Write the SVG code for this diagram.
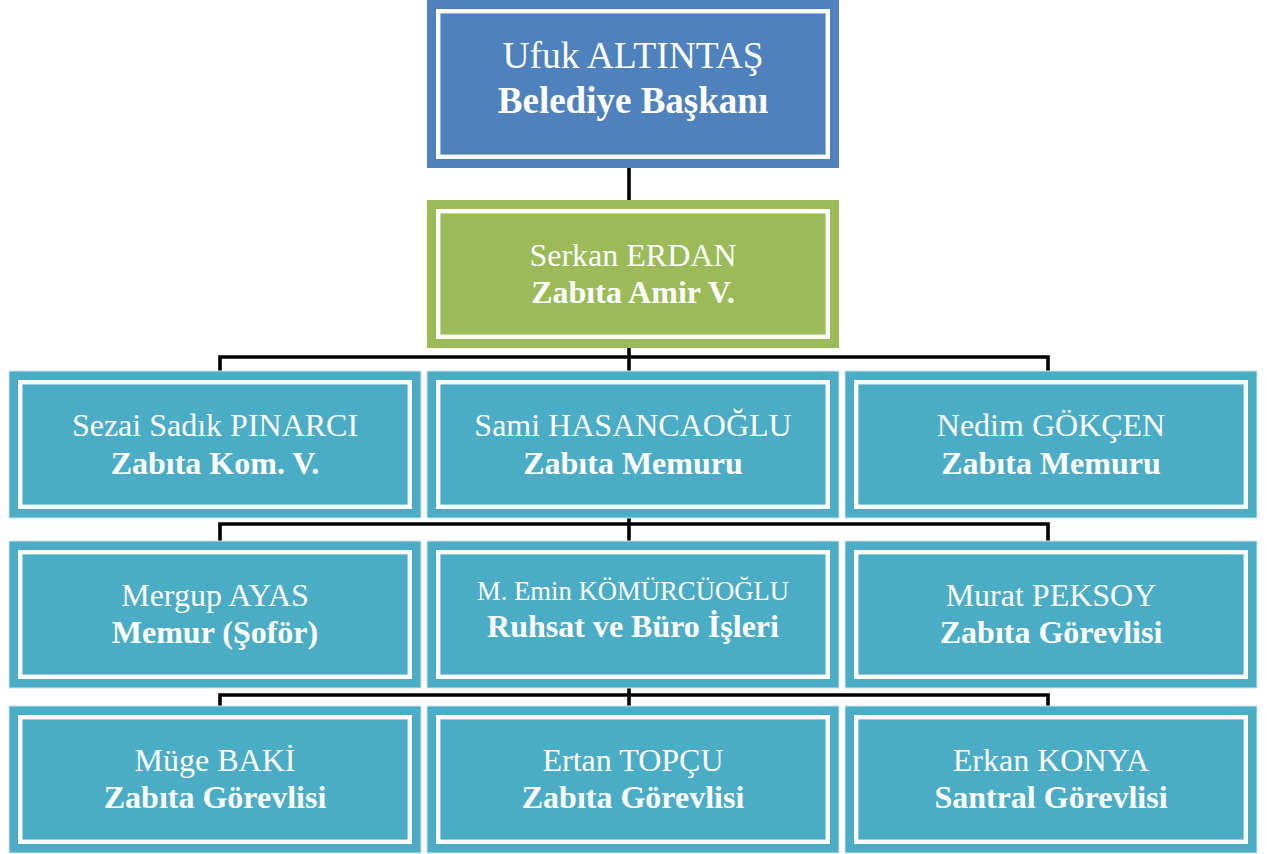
<svg xmlns="http://www.w3.org/2000/svg" width="1267" height="854" viewBox="0 0 1267 854">
  <style>
    .outer { stroke: #CFE6EE; stroke-width: 1; }
    .inner { fill: none; stroke: #FFFFFF; stroke-width: 4.4; }
    .blue { fill: #4F81BD; }
    .green { fill: #9BBB59; }
    .teal { fill: #4BACC6; }
    .t { font-family: "Liberation Serif", "Times New Roman", serif; fill: #FFFFFF; text-anchor: middle; }
    .n { font-size: 32px; }
    .b { font-size: 32px; font-weight: bold; }
    .nl { font-size: 37.5px; }
    .bl { font-size: 37px; font-weight: bold; }
    .ns { font-size: 26.7px; }
    .c { stroke: #000000; stroke-width: 3.6; fill: none; stroke-linecap: butt; }
  </style>
  <rect width="1267" height="854" fill="#FFFFFF"/>

  <g id="connectors">
    <line class="c" x1="629" y1="168" x2="629" y2="200"/>
    <line class="c" x1="629" y1="348" x2="629" y2="371"/>
    <polyline class="c" points="220,371 220,357 1048,357 1048,371"/>
    <line class="c" x1="629" y1="518" x2="629" y2="541"/>
    <polyline class="c" points="220,541 220,524 1048,524 1048,541"/>
    <line class="c" x1="629" y1="688" x2="629" y2="706"/>
    <polyline class="c" points="220,706 220,695 1048,695 1048,706"/>
  </g>

  <g id="node-baskan">
    <rect class="blue" x="427" y="0" width="412" height="168"/>
    <rect class="inner" x="438.2" y="11.2" width="389.6" height="145.6"/>
    <text class="t nl" x="633" y="68">Ufuk ALTINTAŞ</text>
    <text class="t bl" x="633" y="113">Belediye Başkanı</text>
  </g>

  <g id="node-amir">
    <rect class="green" x="427" y="200" width="412" height="148"/>
    <rect class="inner" x="438.2" y="211.2" width="389.6" height="125.6"/>
    <text class="t n" x="633" y="266">Serkan ERDAN</text>
    <text class="t b" x="633" y="303">Zabıta Amir V.</text>
  </g>

  <g id="node-pinarci">
    <rect class="teal outer" x="9" y="371" width="412" height="147"/>
    <rect class="inner" x="20.2" y="382.2" width="389.6" height="124.6"/>
    <text class="t n" x="215" y="436">Sezai Sadık PINARCI</text>
    <text class="t b" x="215" y="474">Zabıta Kom. V.</text>
  </g>
  <g id="node-hasancaoglu">
    <rect class="teal outer" x="427" y="371" width="412" height="147"/>
    <rect class="inner" x="438.2" y="382.2" width="389.6" height="124.6"/>
    <text class="t n" x="633" y="436">Sami HASANCAOĞLU</text>
    <text class="t b" x="633" y="474">Zabıta Memuru</text>
  </g>
  <g id="node-gokcen">
    <rect class="teal outer" x="845" y="371" width="412" height="147"/>
    <rect class="inner" x="856.2" y="382.2" width="389.6" height="124.6"/>
    <text class="t n" x="1051" y="436">Nedim GÖKÇEN</text>
    <text class="t b" x="1051" y="474">Zabıta Memuru</text>
  </g>

  <g id="node-ayas">
    <rect class="teal outer" x="9" y="541" width="412" height="147"/>
    <rect class="inner" x="20.2" y="552.2" width="389.6" height="124.6"/>
    <text class="t n" x="215" y="606">Mergup AYAS</text>
    <text class="t b" x="215" y="643">Memur (Şoför)</text>
  </g>
  <g id="node-komurcuoglu">
    <rect class="teal outer" x="427" y="541" width="412" height="147"/>
    <rect class="inner" x="438.2" y="552.2" width="389.6" height="124.6"/>
    <text class="t ns" x="633" y="600">M. Emin KÖMÜRCÜOĞLU</text>
    <text class="t b" x="633" y="637">Ruhsat ve Büro İşleri</text>
  </g>
  <g id="node-peksoy">
    <rect class="teal outer" x="845" y="541" width="412" height="147"/>
    <rect class="inner" x="856.2" y="552.2" width="389.6" height="124.6"/>
    <text class="t n" x="1051" y="606">Murat PEKSOY</text>
    <text class="t b" x="1051" y="643">Zabıta Görevlisi</text>
  </g>

  <g id="node-baki">
    <rect class="teal outer" x="9" y="706" width="412" height="147"/>
    <rect class="inner" x="20.2" y="717.2" width="389.6" height="124.6"/>
    <text class="t n" x="215" y="771">Müge BAKİ</text>
    <text class="t b" x="215" y="808">Zabıta Görevlisi</text>
  </g>
  <g id="node-topcu">
    <rect class="teal outer" x="427" y="706" width="412" height="147"/>
    <rect class="inner" x="438.2" y="717.2" width="389.6" height="124.6"/>
    <text class="t n" x="633" y="771">Ertan TOPÇU</text>
    <text class="t b" x="633" y="808">Zabıta Görevlisi</text>
  </g>
  <g id="node-konya">
    <rect class="teal outer" x="845" y="706" width="412" height="147"/>
    <rect class="inner" x="856.2" y="717.2" width="389.6" height="124.6"/>
    <text class="t n" x="1051" y="771">Erkan KONYA</text>
    <text class="t b" x="1051" y="808">Santral Görevlisi</text>
  </g>
</svg>
